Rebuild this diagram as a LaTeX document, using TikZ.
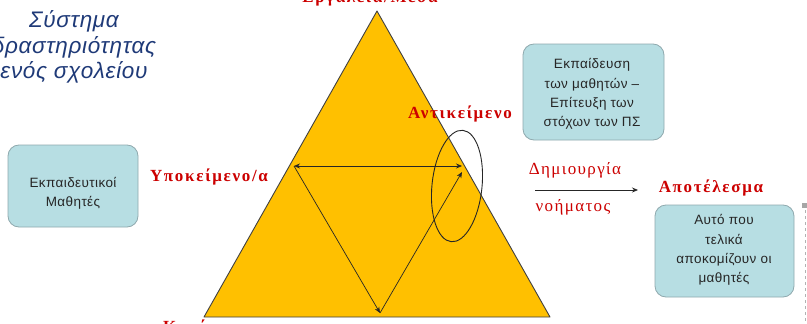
\documentclass[tikz,border=0pt]{standalone}
\usepackage{fontspec}
\setmainfont{Liberation Sans}
\newfontfamily\redserif[LetterSpace=10]{Liberation Serif}
\newfontfamily\redthinfont[LetterSpace=8]{Liberation Serif}
\newfontfamily\titlefont[LetterSpace=3]{Liberation Sans}
\newfontfamily\boxfont[LetterSpace=3]{Liberation Sans}
\usetikzlibrary{shapes.geometric,arrows.meta}
\definecolor{tri}{HTML}{FFC000}
\definecolor{boxfill}{HTML}{B7DEE3}
\definecolor{boxline}{HTML}{8FA9AE}
\definecolor{redlab}{HTML}{CC0000}
\definecolor{navy}{HTML}{1F3A78}
\tikzset{
  box/.style={draw=boxline, line width=0.8pt, fill=boxfill, rounded corners=11pt, inner sep=0pt},
  boxtext/.style={align=center, inner sep=0pt, text=black!85, font=\boxfont\fontsize{13.5}{19.3}\selectfont},
  redlabel/.style={text=redlab, inner sep=0pt, font=\redserif\bfseries\fontsize{17}{19}\selectfont},
  redthin/.style={text=redlab, inner sep=0pt, font=\redthinfont\fontsize{17}{19}\selectfont},
  arr/.style={line width=0.7pt, draw=black!85, -{Stealth[length=6pt,width=5pt]}},
  arrboth/.style={line width=0.7pt, draw=black!85, {Stealth[length=6pt,width=5pt]}-{Stealth[length=6pt,width=5pt]}}
}
\begin{document}
\begin{tikzpicture}[x=1pt,y=-1pt]
\useasboundingbox (0,0) rectangle (807,324);
\fill[white] (0,0) rectangle (807,324);
% triangle
\coordinate (A) at (377,11);
\coordinate (B) at (204,317);
\coordinate (C) at (550,317);
\draw[fill=tri, draw=black!75, line width=0.9pt, line join=round] (A)--(B)--(C)--cycle;
% inner arrows
\coordinate (L) at (294,166);
\coordinate (R) at (462,166);
\coordinate (R2) at (462,172);
\coordinate (D) at (380,313);
\draw[arrboth] (L)--(R);
\draw[arr] (L)--(D);
\draw[arr] (D)--(R2);
% ellipse
\node[draw=black!85, line width=0.9pt, ellipse, inner sep=0pt, minimum width=50pt, minimum height=112pt, rotate=-6] (ell) at (457,186) {};
% title
\node[align=center, text=navy, inner sep=0pt, font=\titlefont\itshape\fontsize{22.5}{25.5}\selectfont] (title) at (74,47) {Σύστημα\\δραστηριότητας\\ενός σχολείου};
% boxes
\node[box, minimum width=130pt, minimum height=82pt] (b1) at (73,186) {};
\node[boxtext] (t1) at (73,193) {Εκπαιδευτικοί\\Μαθητές};
\node[box, minimum width=141pt, minimum height=96pt] (b2) at (593.5,92) {};
\node[boxtext] (t2) at (592,94) {Εκπαίδευση\\των μαθητών –\\Επίτευξη των\\στόχων των ΠΣ};
\node[box, minimum width=139pt, minimum height=92pt] (b3) at (724.5,251) {};
\node[boxtext] (t3) at (724,250) {Αυτό που\\τελικά\\αποκομίζουν οι\\μαθητές};
% red labels
\node[redlabel, anchor=base] (top) at (370,2) {Εργαλεία/Μέσα};
\node[redlabel] (subj) at (209,177) {Υποκείμενο/α};
\node[redlabel] (obj) at (460,114) {Αντικείμενο};
\node[redlabel] (res) at (711,188) {Αποτέλεσμα};
\node[redlabel, anchor=north west] (rules) at (163,320) {Κανόνες};
\node[redthin] (dim) at (575,170) {Δημιουργία};
\node[redthin] (noim) at (573,207) {νοήματος};
\coordinate (a1) at (535,190);
\coordinate (a2) at (638,190);
\draw[arr, line width=0.8pt] (a1)--(a2);
% selection handle
\fill[gray!70] (802,203) rectangle (807,208);
\draw[gray!60, dashed, line width=0.6pt] (805,210)--(805,324);
\end{tikzpicture}
\end{document}
